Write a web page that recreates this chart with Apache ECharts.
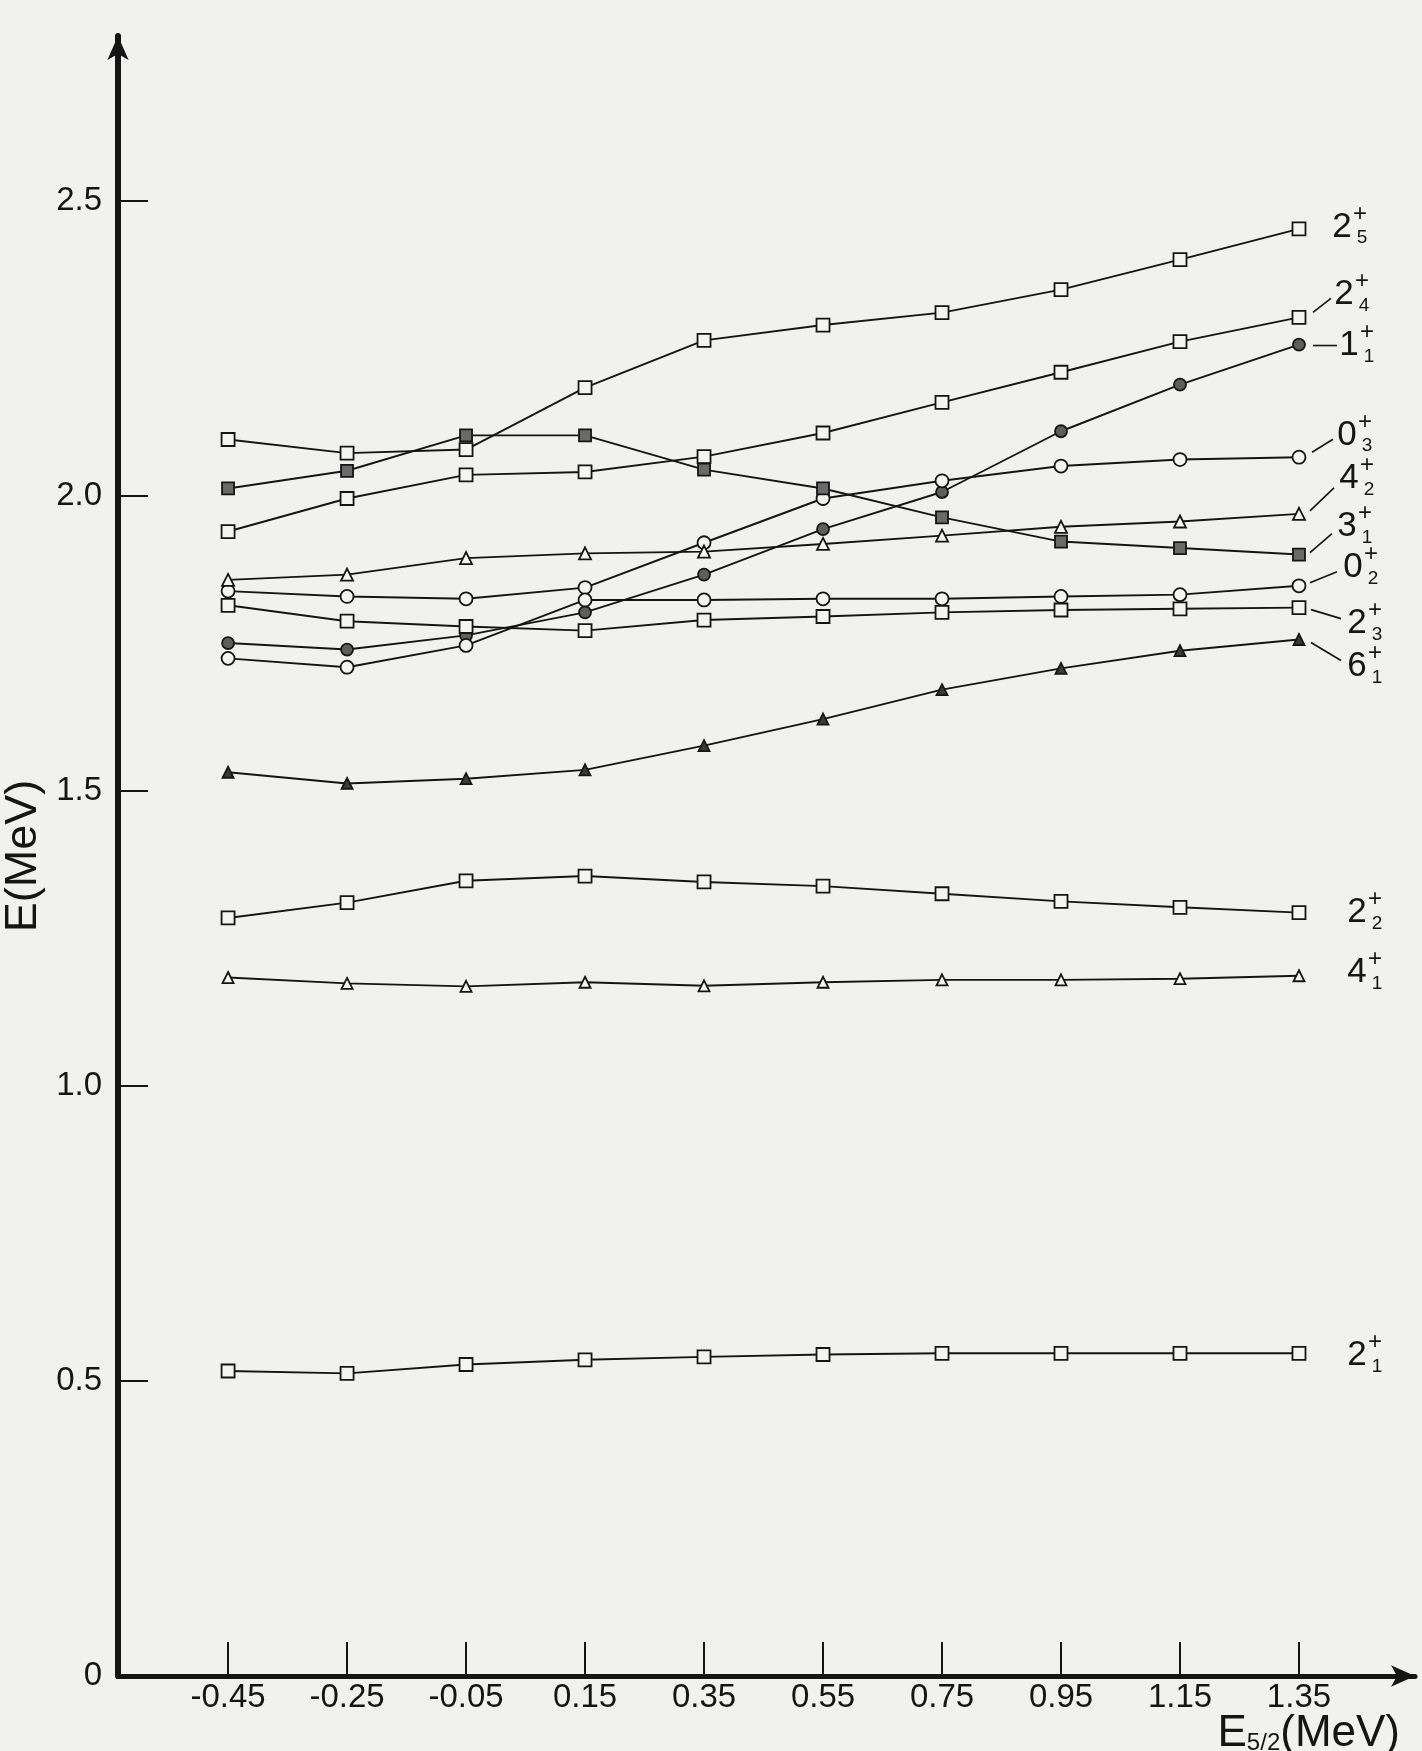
<!DOCTYPE html>
<html>
<head>
<meta charset="utf-8">
<script src="https://cdn.jsdelivr.net/npm/echarts@6/dist/echarts.min.js"></script>
<style>
  html, body { margin: 0; padding: 0; background: #f1f1ef; }
  #chart { width: 1422px; height: 1751px; }
</style>
</head>
<body>
<div id="chart"></div>
<script>
// E_5/2 values (MeV) at which the level energies were computed
const xValues = [-0.45, -0.25, -0.05, 0.15, 0.35, 0.55, 0.75, 0.95, 1.15, 1.35];
const xTicks = [-0.45, -0.25, -0.05, 0.15, 0.35, 0.55, 0.75, 0.95, 1.15, 1.35];
const yTicks = [0, 0.5, 1.0, 1.5, 2.0, 2.5];

// Level energies E (MeV)
const e2_5 = [2.096, 2.073, 2.079, 2.184, 2.264, 2.290, 2.311, 2.350, 2.401, 2.453];
const e2_4 = [1.940, 1.996, 2.036, 2.041, 2.067, 2.107, 2.159, 2.210, 2.262, 2.303];
const e1_1 = [1.751, 1.740, 1.764, 1.803, 1.867, 1.944, 2.007, 2.110, 2.189, 2.257];
const e0_3 = [1.839, 1.830, 1.826, 1.845, 1.921, 1.996, 2.026, 2.051, 2.062, 2.066];
const e4_2 = [1.858, 1.867, 1.895, 1.903, 1.906, 1.919, 1.933, 1.948, 1.957, 1.970];
const e3_1 = [2.013, 2.043, 2.103, 2.103, 2.045, 2.013, 1.964, 1.923, 1.912, 1.901];
const e0_2 = [1.725, 1.710, 1.747, 1.824, 1.824, 1.826, 1.826, 1.830, 1.833, 1.848];
const e2_3 = [1.815, 1.788, 1.779, 1.772, 1.790, 1.796, 1.803, 1.807, 1.809, 1.811];
const e6_1 = [1.532, 1.513, 1.521, 1.536, 1.577, 1.622, 1.672, 1.708, 1.738, 1.757];
const e2_2 = [1.285, 1.311, 1.348, 1.356, 1.346, 1.339, 1.326, 1.313, 1.303, 1.294];
const e4_1 = [1.184, 1.174, 1.169, 1.176, 1.170, 1.176, 1.180, 1.180, 1.182, 1.187];
const e2_1 = [0.517, 0.513, 0.528, 0.536, 0.541, 0.545, 0.547, 0.547, 0.547, 0.547];

const INK = '#151515';
const PAPER = '#f4f4f2';
const FONT = '"Liberation Sans", Arial, Helvetica, sans-serif';

// Each level: spin, index, values, marker and its end label placement
const levels = [
  { spin: '2', idx: '5', data: e2_5, symbol: 'rect', size: 13, fill: PAPER, lab: [43, -2], lead: null },
  { spin: '2', idx: '4', data: e2_4, symbol: 'rect', size: 13, fill: PAPER, lab: [45, -23], lead: [14, -5, 32, -19] },
  { spin: '1', idx: '1', data: e1_1, symbol: 'circle', size: 12, fill: '#5e5e5e', lab: [50, 1], lead: [14, 1, 38, 1] },
  { spin: '0', idx: '3', data: e0_3, symbol: 'circle', size: 13, fill: PAPER, lab: [48, -22], lead: [13, -5, 34, -18] },
  { spin: '4', idx: '2', data: e4_2, symbol: 'triangle', size: 12, fill: PAPER, lab: [50, -35], lead: [11, -3, 35, -26] },
  { spin: '3', idx: '1', data: e3_1, symbol: 'rect', size: 12, fill: '#6a6a6a', lab: [48, -28], lead: [11, -2, 33, -21] },
  { spin: '0', idx: '2', data: e0_2, symbol: 'circle', size: 13, fill: PAPER, lab: [54, -18], lead: [11, -3, 38, -14] },
  { spin: '2', idx: '3', data: e2_3, symbol: 'rect', size: 13, fill: PAPER, lab: [58, 16], lead: [12, 2, 42, 11] },
  { spin: '6', idx: '1', data: e6_1, symbol: 'triangle', size: 11, fill: '#3a3a3a', lab: [58, 27], lead: [12, 3, 42, 21] },
  { spin: '2', idx: '2', data: e2_2, symbol: 'rect', size: 13, fill: PAPER, lab: [58, 0], lead: null },
  { spin: '4', idx: '1', data: e4_1, symbol: 'triangle', size: 11, fill: PAPER, lab: [58, -3], lead: null },
  { spin: '2', idx: '1', data: e2_1, symbol: 'rect', size: 13, fill: PAPER, lab: [58, 2], lead: null }
];

const chart = echarts.init(document.getElementById('chart'), null, { renderer: 'canvas' });

const series = levels.map(function (lv) {
  return {
    type: 'line',
    name: lv.spin + '+' + lv.idx,
    data: xValues.map(function (x, i) { return [x, lv.data[i]]; }),
    symbol: lv.symbol,
    symbolSize: lv.size,
    showSymbol: true,
    lineStyle: { color: INK, width: 1.9 },
    itemStyle: { color: lv.fill, borderColor: INK, borderWidth: 1.8 },
    emphasis: { disabled: true },
    z: 3
  };
});

chart.setOption({
  animation: false,
  backgroundColor: '#f1f1ef',
  grid: { left: 118, right: 7, top: 36, bottom: 75, containLabel: false, outerBoundsMode: 'none' },
  xAxis: {
    type: 'value',
    min: -0.635,
    max: 1.545,
    axisLine: {
      show: true,
      onZero: false,
      symbol: ['none', 'arrow'],
      symbolSize: [16, 24],
      lineStyle: { color: INK, width: 5 }
    },
    axisTick: { show: true, inside: true, length: 34, customValues: xTicks, lineStyle: { color: INK, width: 2 } },
    axisLabel: {
      customValues: xTicks,
      formatter: function (v) { return v.toFixed(2); },
      fontFamily: FONT, fontSize: 33, color: INK, margin: 5
    },
    splitLine: { show: false }
  },
  yAxis: {
    type: 'value',
    min: 0,
    max: 2.78,
    name: 'E(MeV)',
    nameLocation: 'middle',
    nameRotate: 90,
    nameGap: 72,
    nameMoveOverlap: false,
    nameTextStyle: { fontFamily: FONT, fontSize: 45, color: INK },
    axisLine: {
      show: true,
      onZero: false,
      symbol: ['none', 'arrow'],
      symbolSize: [16, 24],
      lineStyle: { color: INK, width: 6 }
    },
    axisTick: { show: true, inside: true, length: 30, customValues: yTicks, lineStyle: { color: INK, width: 2 } },
    axisLabel: {
      customValues: yTicks,
      formatter: function (v) { return v === 0 ? '0' : v.toFixed(1); },
      fontFamily: FONT, fontSize: 33, color: INK, margin: 16
    },
    splitLine: { show: false }
  },
  series: series
});

// State labels (J^+ with index) at the right end of each level, with leader lines
const graphics = [];
levels.forEach(function (lv) {
  const last = lv.data.length - 1;
  const p = chart.convertToPixel({ gridIndex: 0 }, [xValues[last], lv.data[last]]);
  const cx = p[0] + lv.lab[0];
  const cy = p[1] + lv.lab[1];
  graphics.push({
    type: 'text', x: cx, y: cy, z: 10,
    style: { text: lv.spin, font: '35px ' + FONT, fill: INK, textAlign: 'center', textVerticalAlign: 'middle' }
  });
  graphics.push({
    type: 'text', x: cx + 18, y: cy - 13, z: 10,
    style: { text: '+', font: '24px ' + FONT, fill: INK, textAlign: 'center', textVerticalAlign: 'middle' }
  });
  graphics.push({
    type: 'text', x: cx + 20, y: cy + 11, z: 10,
    style: { text: lv.idx, font: '19px ' + FONT, fill: INK, textAlign: 'center', textVerticalAlign: 'middle' }
  });
  if (lv.lead) {
    graphics.push({
      type: 'line', z: 10,
      shape: { x1: p[0] + lv.lead[0], y1: p[1] + lv.lead[1], x2: p[0] + lv.lead[2], y2: p[1] + lv.lead[3] },
      style: { stroke: INK, lineWidth: 1.6 }
    });
  }
});

// Horizontal axis title E_5/2 (MeV)
graphics.push({
  type: 'text', right: 22, bottom: -5, z: 10,
  style: {
    text: '{e|E}{s|5/2}{e|(MeV)}',
    rich: {
      e: { fontFamily: FONT, fontSize: 44, fill: INK, color: INK },
      s: { fontFamily: FONT, fontSize: 24, fill: INK, color: INK, padding: [19, 0, 0, 0] }
    }
  }
});

chart.setOption({ graphic: graphics });
</script>
</body>
</html>
